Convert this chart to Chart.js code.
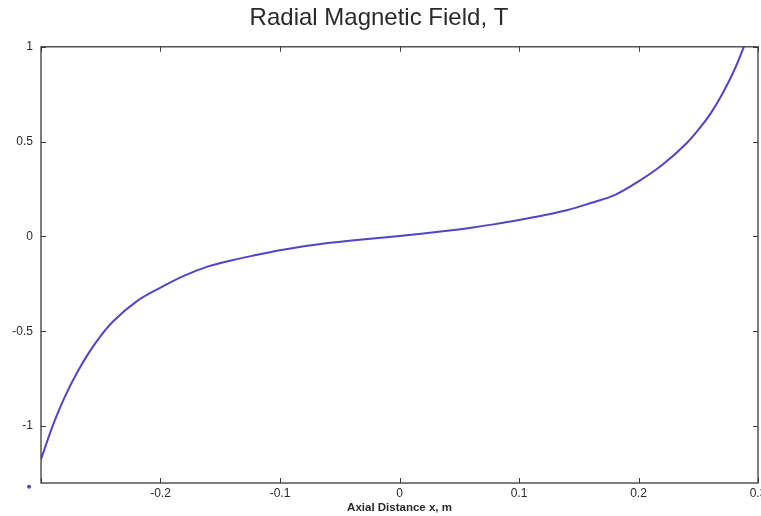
<!DOCTYPE html>
<html>
<head>
<meta charset="utf-8">
<script src="https://cdn.jsdelivr.net/npm/chart.js@4/dist/chart.umd.min.js"></script>
<style>
  html, body { margin: 0; padding: 0; background: #fff; }
  #wrap { width: 761px; height: 516px; }
</style>
</head>
<body>
<div id="wrap"><canvas id="fieldChart" width="761" height="516"></canvas></div>
<script>
// axial position (m) and radial field (T); denser sampling at the steep ends
const axialX = [-0.30, -0.29, -0.28, -0.27, -0.26, -0.25, -0.24, -0.22, -0.20, -0.18, -0.16, -0.14, -0.12,
                -0.10, -0.08, -0.06, -0.04, -0.02, 0.00, 0.02, 0.04, 0.06, 0.08,
                0.10, 0.12, 0.14, 0.16, 0.18, 0.20, 0.22, 0.24, 0.25, 0.26, 0.27, 0.28, 0.29, 0.30];
const radialB = [-1.175, -0.995, -0.845, -0.720, -0.614, -0.524, -0.450, -0.342, -0.270, -0.207, -0.158, -0.125, -0.098,
                 -0.073, -0.052, -0.035, -0.021, -0.009, 0.003, 0.016, 0.030, 0.046, 0.065,
                 0.087, 0.111, 0.138, 0.176, 0.218, 0.290, 0.378, 0.490, 0.562, 0.645, 0.750, 0.875, 1.030, 1.210];
const strayPoint = [{ x: -0.31, y: -1.32 }];
const xTicks = [-0.3, -0.2, -0.1, 0, 0.1, 0.2, 0.3];
const yTicks = [-1, -0.5, 0, 0.5, 1];

const lineColor = '#5244c8';
const axisColor = '#3a3a3a';
const textColor = '#2a2a2a';
const fontFamily = 'Liberation Sans, Arial, sans-serif';

// box round the plot with short inward ticks on every side,
// plus the lone marker that sits outside the axes
const boxTicks = {
    id: 'boxTicks',
    afterDraw(chart) {
        const { ctx, chartArea: a, scales } = chart;
        const len = 5;
        ctx.save();
        ctx.strokeStyle = axisColor;
        ctx.lineWidth = 1.3;
        ctx.strokeRect(a.left, a.top, a.right - a.left, a.bottom - a.top);
        ctx.lineWidth = 1;
        ctx.beginPath();
        xTicks.forEach(v => {
            const px = Math.round(scales.x.getPixelForValue(v)) + 0.5;
            ctx.moveTo(px, a.bottom); ctx.lineTo(px, a.bottom - len);
            ctx.moveTo(px, a.top); ctx.lineTo(px, a.top + len);
        });
        yTicks.forEach(v => {
            const py = Math.round(scales.y.getPixelForValue(v)) + 0.5;
            ctx.moveTo(a.left, py); ctx.lineTo(a.left + len, py);
            ctx.moveTo(a.right, py); ctx.lineTo(a.right - len, py);
        });
        ctx.stroke();
        ctx.fillStyle = lineColor;
        strayPoint.forEach(p => {
            ctx.beginPath();
            ctx.arc(scales.x.getPixelForValue(p.x), scales.y.getPixelForValue(p.y), 2, 0, Math.PI * 2);
            ctx.fill();
        });
        ctx.restore();
    }
};

new Chart(document.getElementById('fieldChart').getContext('2d'), {
    type: 'line',
    data: {
        datasets: [{
            label: 'B_r',
            data: axialX.map((x, i) => ({ x: x, y: radialB[i] })),
            borderColor: lineColor,
            borderWidth: 2,
            pointRadius: 0,
            cubicInterpolationMode: 'monotone',
            fill: false
        }]
    },
    options: {
        responsive: false,
        animation: false,
        devicePixelRatio: 1,
        layout: { padding: { left: 0, right: 3, top: 0, bottom: 0 } },
        plugins: {
            legend: { display: false },
            tooltip: { enabled: false },
            title: {
                display: true,
                text: 'Radial Magnetic Field, T',
                color: textColor,
                font: { family: fontFamily, size: 24, weight: 'normal' },
                padding: { top: 4, bottom: 14 }
            }
        },
        scales: {
            x: {
                type: 'linear',
                min: -0.3,
                max: 0.3,
                grid: { display: false, drawTicks: false, tickLength: 0 },
                border: { display: false },
                afterBuildTicks: s => { s.ticks = xTicks.map(v => ({ value: v })); },
                afterFit: s => { s.height = 33; s.paddingLeft = 0; s.paddingRight = 0; },
                ticks: {
                    color: textColor,
                    padding: 3,
                    maxRotation: 0,
                    font: { family: fontFamily, size: 12 },
                    callback: v => (v === -0.3 ? '' : String(Math.round(v * 10) / 10))
                },
                title: {
                    display: true,
                    text: 'Axial Distance x, m',
                    color: textColor,
                    font: { family: fontFamily, size: 11.5, weight: 'bold' },
                    padding: { top: 0, bottom: 1 }
                }
            },
            y: {
                type: 'linear',
                min: -1.3,
                max: 1,
                grid: { display: false, drawTicks: false, tickLength: 0 },
                border: { display: false },
                afterBuildTicks: s => { s.ticks = yTicks.map(v => ({ value: v })); },
                afterFit: s => { s.width = 41; s.paddingTop = 0; s.paddingBottom = 0; },
                ticks: {
                    color: textColor,
                    padding: 8,
                    font: { family: fontFamily, size: 12 },
                    callback: v => String(v)
                }
            }
        }
    },
    plugins: [boxTicks]
});
</script>
</body>
</html>
